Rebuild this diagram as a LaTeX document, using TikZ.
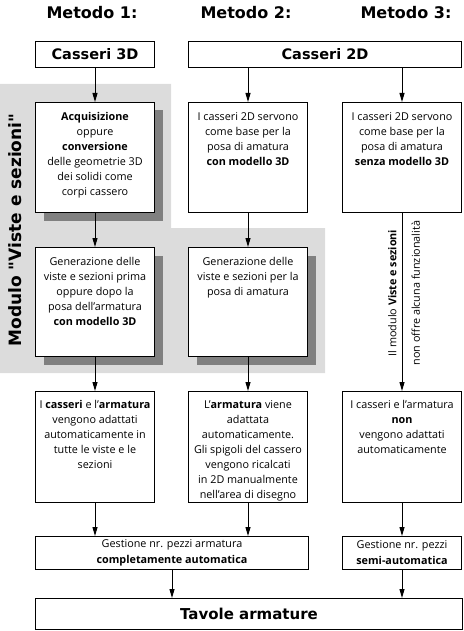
\documentclass[tikz,border=0pt]{standalone}
\usepackage{fontspec}
\setmainfont{Open Sans}
\newfontfamily\headfont{DejaVu Sans}
\usetikzlibrary{arrows.meta,positioning,shadows}

\definecolor{modgray}{RGB}{220,220,220}
\definecolor{shadowgray}{RGB}{128,128,128}

\tikzset{
  box/.style={draw, line width=1pt, fill=white, anchor=north west, inner sep=0pt, align=center},
  shbox/.style={box, drop shadow={shadow xshift=8pt, shadow yshift=-8pt, fill=shadowgray, opacity=1}},
  txt/.style={align=center, inner sep=0pt, font=\fontsize{10.8}{15}\selectfont},
  flow/.style={line width=1pt, -{Triangle[length=9pt,width=5pt]}},
  head/.style={font=\headfont\bfseries\fontsize{16}{19}\selectfont},
  title/.style={font=\headfont\bfseries\fontsize{14.5}{17}\selectfont},
}

\begin{document}
\begin{tikzpicture}[x=1pt,y=-1pt]
  \useasboundingbox (0,0) rectangle (463,631);

  % module area
  \fill[modgray] (0,84) -- (171,84) -- (171,228) -- (325,228) -- (325,373) -- (0,373) -- cycle;
  \node[head, rotate=90, font=\headfont\bfseries\fontsize{17}{20}\selectfont] (modlabel) at (15,230) {Modulo "Viste e sezioni"};

  % headers
  \node[head] (m1) at (92,13) {Metodo 1:};
  \node[head] (m2) at (246,13) {Metodo 2:};
  \node[head] (m3) at (406,13) {Metodo 3:};

  % boxes
  \node[box, title, minimum width=119pt, minimum height=26pt] (c3d) at (35,41) {Casseri 3D};
  \node[box, title, minimum width=273pt, minimum height=26pt] (c2d) at (188,41) {Casseri 2D};

  \node[shbox, minimum width=119pt, minimum height=110pt] (acq) at (35,102) {};
  \node[box, minimum width=119pt, minimum height=110pt] (b2) at (188,102) {};
  \node[box, minimum width=119pt, minimum height=110pt] (b3) at (342,102) {};

  \node[shbox, minimum width=119pt, minimum height=109pt] (gen1) at (35,247) {};
  \node[shbox, minimum width=119pt, minimum height=109pt] (gen2) at (188,247) {};

  \node[box, minimum width=119pt, minimum height=111pt] (r3a) at (35,391) {};
  \node[box, minimum width=119pt, minimum height=111pt] (r3b) at (188,391) {};
  \node[box, minimum width=119pt, minimum height=111pt] (r3c) at (342,391) {};

  \node[box, txt, font=\fontsize{10.8}{16}\selectfont, minimum width=273pt, minimum height=33pt] (ges1) at (35,536)
    {Gestione nr. pezzi armatura\\ \textbf{completamente automatica}};
  \node[box, txt, font=\fontsize{10.8}{16}\selectfont, minimum width=119pt, minimum height=33pt] (ges3) at (342,536)
    {Gestione nr. pezzi\\ \textbf{semi-automatica}};

  \node[box, title, font=\headfont\bfseries\fontsize{15}{18}\selectfont, minimum width=427pt, minimum height=31pt] (tav) at (35,598) {Tavole armature};

  % texts
  \node[txt, below=10pt of acq.north] (acqtxt) {\textbf{Acquisizione}\\ oppure\\ \textbf{conversione}\\ delle geometrie 3D\\ dei solidi come\\ corpi cassero};
  \node[txt, below=10pt of b2.north] (b2txt) {I casseri 2D servono\\ come base per la\\ posa di amatura\\ \textbf{con modello 3D}};
  \node[txt, below=10pt of b3.north] (b3txt) {I casseri 2D servono\\ come base per la\\ posa di amatura\\ \textbf{senza modello 3D}};
  \node[txt, below=10pt of gen1.north] (gen1txt) {Generazione delle\\ viste e sezioni prima\\ oppure dopo la\\ posa dell'armatura\\ \textbf{con modello 3D}};
  \node[txt, below=10pt of gen2.north] (gen2txt) {Generazione delle\\ viste e sezioni per la\\ posa di amatura};
  \node[txt, below=9pt of r3a.north] (r3atxt) {I \textbf{casseri} e l'\textbf{armatura}\\ vengono adattati\\ automaticamente in\\ tutte le viste e le\\ sezioni};
  \node[txt, below=9pt of r3b.north] (r3btxt) {L'\textbf{armatura} viene\\ adattata\\ automaticamente.\\ Gli spigoli del cassero\\ vengono ricalcati\\ in 2D manualmente\\ nell'area di disegno};
  \node[txt, below=9pt of r3c.north] (r3ctxt) {I casseri e l'armatura\\ \textbf{non}\\ vengono adattati\\ automaticamente};

  % arrows
  \draw[flow] (c3d.south) -- (acq.north);
  \draw[flow] (c2d.south -| b2.north) -- (b2.north);
  \draw[flow] (c2d.south -| b3.north) -- (b3.north);
  \draw[flow] (acq.south) -- (gen1.north);
  \draw[flow] (b2.south) -- (gen2.north);
  \draw[flow] (b3.south) -- (r3c.north)
    node[txt, pos=0.45, rotate=90, anchor=south, inner ysep=5pt] (nofunc1) {Il modulo \textbf{Viste e sezioni}}
    node[txt, pos=0.45, rotate=90, anchor=north, inner ysep=9pt] (nofunc2) {non offre alcuna funzionalità};
  \draw[flow] (gen1.south) -- (r3a.north);
  \draw[flow] (gen2.south) -- (r3b.north);
  \draw[flow] (r3a.south) -- (r3a.south |- ges1.north);
  \draw[flow] (r3b.south) -- (r3b.south |- ges1.north);
  \draw[flow] (r3c.south) -- (ges3.north);
  \draw[flow] (ges1.south) -- (ges1.south |- tav.north);
  \draw[flow] (ges3.south) -- (ges3.south |- tav.north);
\end{tikzpicture}
\end{document}
